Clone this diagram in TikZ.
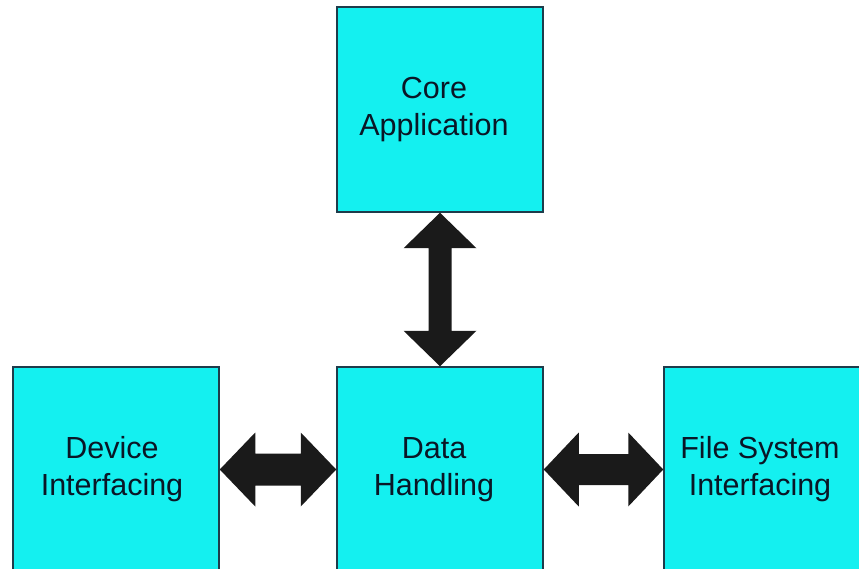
\documentclass[tikz,border=0pt]{standalone}
\usepackage{fontspec}
\setmainfont{Liberation Sans}
\usetikzlibrary{calc}
\definecolor{boxfill}{RGB}{20,240,240}
\definecolor{boxline}{RGB}{30,60,75}
\definecolor{labeltext}{RGB}{10,22,38}
\definecolor{arrowfill}{RGB}{26,26,26}

% Fat double-headed arrow between two points:
% #1 start tip, #2 end tip, #3 head length, #4 head half-width, #5 shaft half-width
\newcommand\dblfatarrow[5]{%
  \fill[arrowfill]
    let \p1 = ($(#2)-(#1)$), \n1 = {veclen(\x1,\y1)},
        \p2 = ($(0,0)!1!90:(\x1/\n1,\y1/\n1)$) in
    (#1)
    -- ($(#1)!#3!(#2) + #4*(\x2,\y2)$)
    -- ($(#1)!#3!(#2) + #5*(\x2,\y2)$)
    -- ($(#2)!#3!(#1) + #5*(\x2,\y2)$)
    -- ($(#2)!#3!(#1) + #4*(\x2,\y2)$)
    -- (#2)
    -- ($(#2)!#3!(#1) - #4*(\x2,\y2)$)
    -- ($(#2)!#3!(#1) - #5*(\x2,\y2)$)
    -- ($(#1)!#3!(#2) - #5*(\x2,\y2)$)
    -- ($(#1)!#3!(#2) - #4*(\x2,\y2)$)
    -- cycle;}

\begin{document}
\begin{tikzpicture}[x=1pt,y=-1pt,
  block/.style={draw=boxline, line width=1.5pt, fill=boxfill,
    minimum width=206pt, minimum height=205pt, inner sep=0pt},
  caption/.style={align=center, text=labeltext, inner sep=0pt,
    font=\fontsize{30.5}{37}\selectfont}]
\useasboundingbox (0,0) rectangle (859,569);
\clip (0,0) rectangle (859,569);
\fill[white] (0,0) rectangle (859,569);

% the four blocks
\node[block] (core)   at (440,109.5) {};
\node[block] (device) at (116,469.5) {};
\node[block] (data)   at (440,469.5) {};
\node[block] (files)  at (767,469.5) {};

% their labels, set a little left of centre
\node[caption] (coretxt)   at ($(core)+(-6,0)$)   {Core\\Application};
\node[caption] (devicetxt) at ($(device)+(-4,0)$) {Device\\Interfacing};
\node[caption] (datatxt)   at ($(data)+(-6,0)$)   {Data\\Handling};
\node[caption] (filestxt)  at ($(files)+(-7,0)$)  {File System\\Interfacing};

% connectors
\dblfatarrow{core.south}{data.north}{35.5pt}{36.5}{11.5}
\dblfatarrow{device.east}{data.west}{35.5pt}{37}{16}
\dblfatarrow{data.east}{files.west}{35pt}{37}{15.5}
\end{tikzpicture}
\end{document}
